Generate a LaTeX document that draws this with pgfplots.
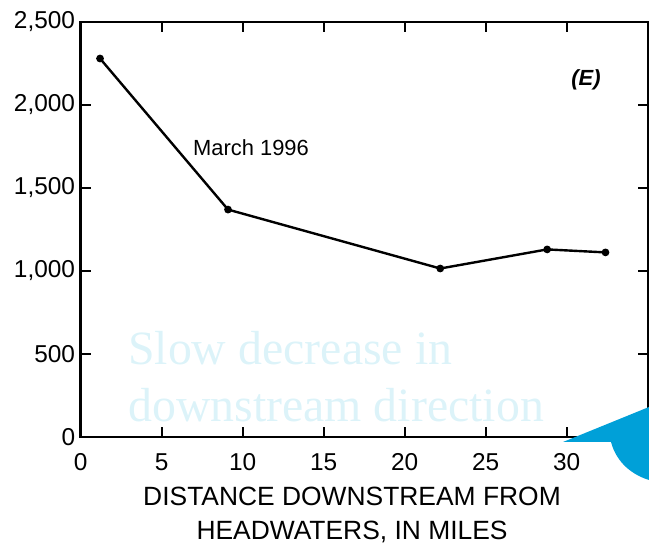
\documentclass[border=0pt]{standalone}
\usepackage{pgfplots}
\pgfplotsset{compat=1.18}
\usepackage{fontspec}
\setmainfont{Liberation Sans}
\newfontfamily\serifovl{Liberation Serif}
\definecolor{ovlcyan}{RGB}{220,243,249}
\definecolor{callout}{RGB}{0,160,216}
\begin{document}
\begin{tikzpicture}[x=1bp,y=1bp]
\useasboundingbox (-80.6,-111) rectangle (568.4,437);
\begin{axis}[
  at={(0,0)}, anchor=south west,
  scale only axis, width=567bp, height=415bp,
  xmin=0, xmax=35, ymin=0, ymax=2500,
  xtick={0,5,...,30}, ytick={0,500,...,2500},
  tick align=inside, major tick length=10bp,
  axis line style={line width=2.2bp},
  every tick/.style={line width=1.8bp, black},
  /pgf/number format/assume math mode=true,
  /pgf/number format/1000 sep={,},
  ticklabel style={font=\fontsize{24.5}{28}\selectfont},
  yticklabel style={xshift=-2bp},
  xticklabel style={yshift=-13bp},
  clip=false,
]
\addplot[black, line width=2.4bp, mark=*, mark size=2.6bp] coordinates {
  (1.2,2280) (9.1,1370) (22.2,1015) (28.8,1130) (32.4,1112)
};
\end{axis}
\node[anchor=base west, text=ovlcyan, font=\serifovl\fontsize{48}{56}\selectfont, inner sep=0] at (47.4,72) {Slow decrease in};
\node[anchor=base west, text=ovlcyan, font=\serifovl\fontsize{48}{56}\selectfont, inner sep=0] at (47.4,15) {downstream direction};
\node[font=\fontsize{22}{26}\selectfont] at (170.4,289) {March 1996};
\node[font=\bfseries\itshape\fontsize{22}{26}\selectfont] at (505.4,357) {(E)};
\node[align=center, font=\fontsize{26.5}{34}\selectfont] at (271.4,-78) {DISTANCE DOWNSTREAM FROM\\HEADWATERS, IN MILES};
\fill[callout] (482.4,-5) -- (568.4,30) -- (568.4,-43) .. controls (552,-38) and (536,-26) .. (530.4,-5) -- cycle;
\end{tikzpicture}
\end{document}
